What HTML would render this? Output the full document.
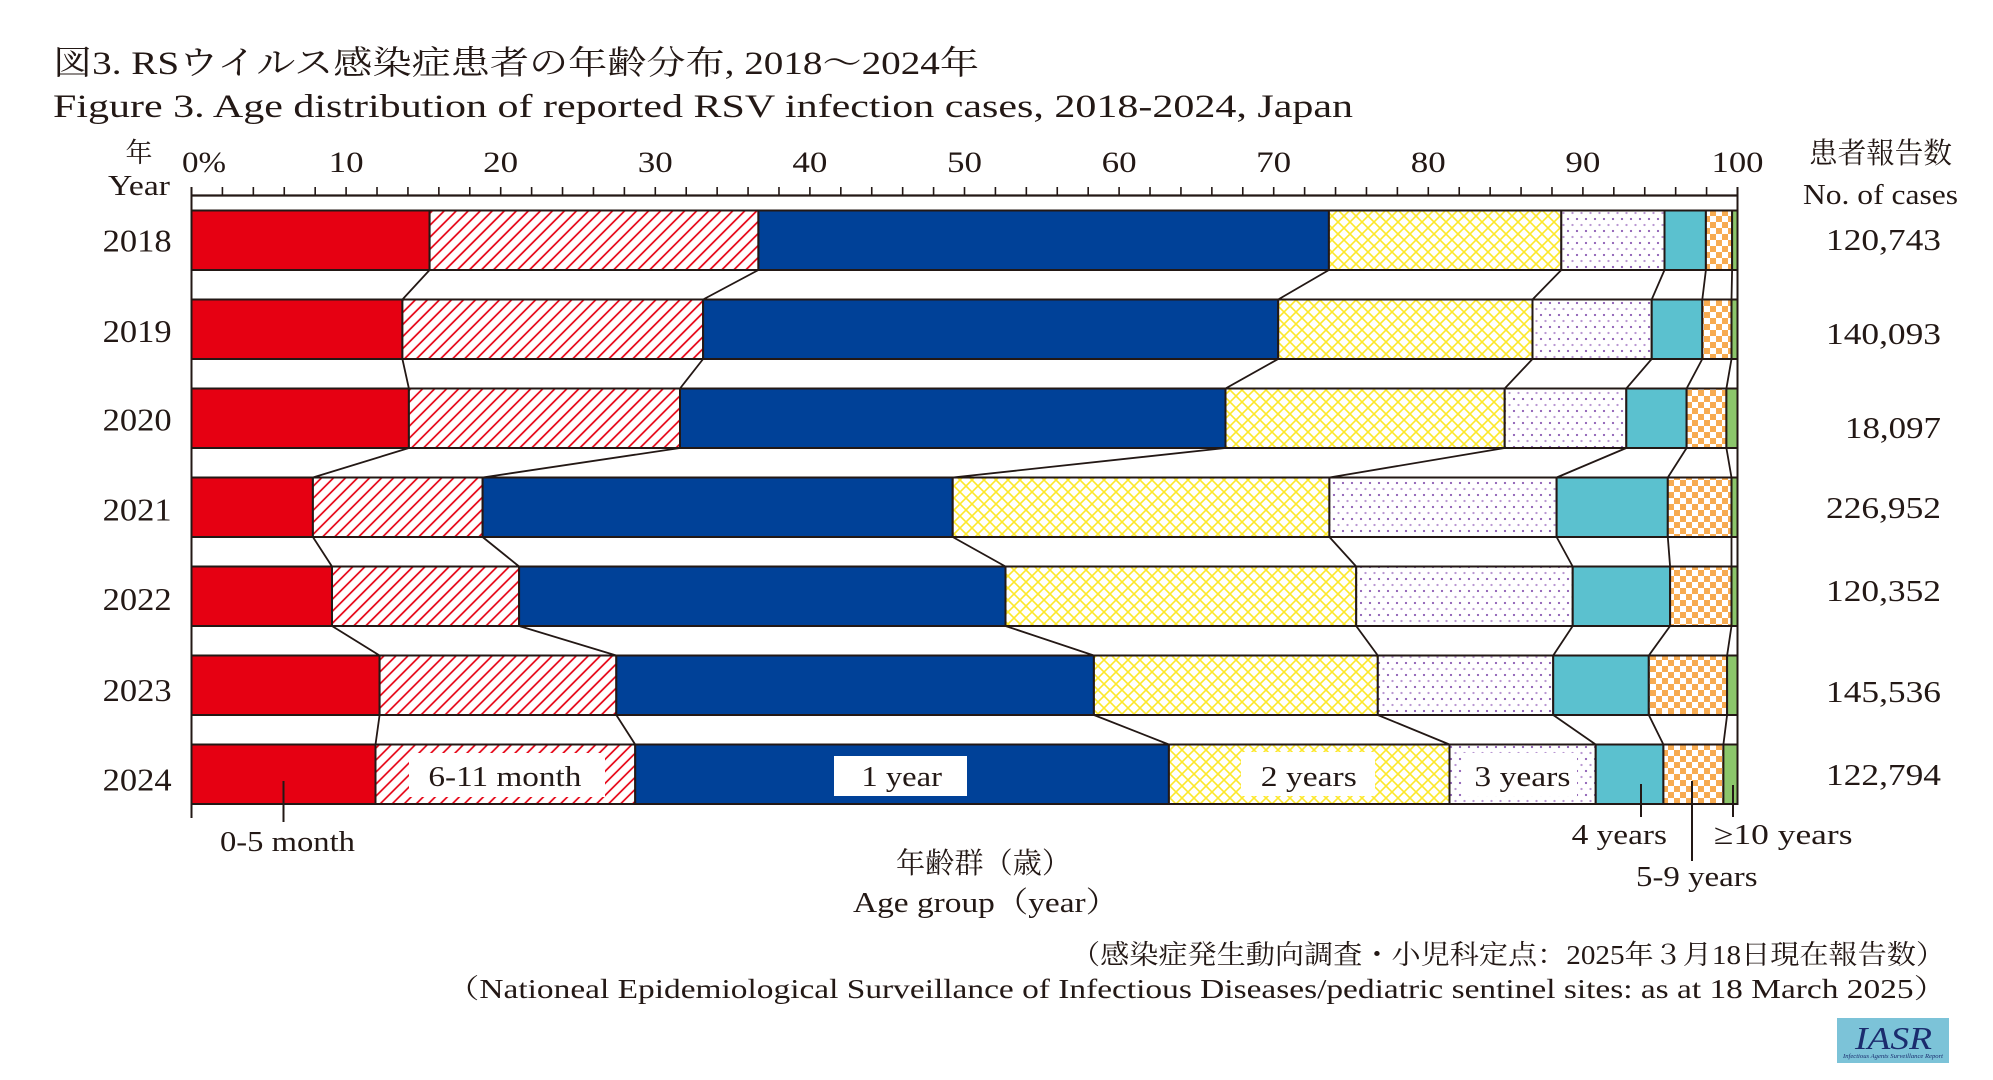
<!DOCTYPE html>
<html><head><meta charset="utf-8"><style>
html,body{margin:0;padding:0;background:#fff;}
svg{display:block;}
text{font-family:"Liberation Serif","Noto Serif CJK SC",serif;fill:#231815;}
</style></head><body>
<svg width="1993" height="1080" viewBox="0 0 1993 1080" xmlns="http://www.w3.org/2000/svg">
<defs>
<pattern id="hr" patternUnits="userSpaceOnUse" width="8.5" height="8.5" patternTransform="rotate(45)">
<rect width="8.5" height="8.5" fill="#fff"/><line x1="4.25" y1="0" x2="4.25" y2="8.5" stroke="#e60012" stroke-width="1.7"/></pattern>
<pattern id="yx" patternUnits="userSpaceOnUse" width="12" height="12">
<rect width="12" height="12" fill="#fff"/><path d="M0,0L12,12M12,0L0,12M-1,11L1,13M11,-1L13,1M-1,1L1,-1M11,13L13,11" stroke="#fde82a" stroke-width="1.6"/></pattern>
<pattern id="dt" patternUnits="userSpaceOnUse" width="9" height="12">
<rect width="9" height="12" fill="#fff"/><circle cx="2" cy="3" r="1.15" fill="#9062b6"/><circle cx="6.5" cy="9" r="1.15" fill="#b997d2"/></pattern>
<pattern id="oc" patternUnits="userSpaceOnUse" width="12" height="12">
<rect width="12" height="12" fill="#fff"/><rect x="0" y="0" width="6" height="6" fill="#f7ab50"/><rect x="6" y="6" width="6" height="6" fill="#f7ab50"/></pattern>
</defs>

<!-- Titles -->
<text x="53" y="74" font-size="33" textLength="926" lengthAdjust="spacingAndGlyphs">図3. RSウイルス感染症患者の年齢分布, 2018～2024年</text>
<text x="53" y="117" font-size="33" textLength="1300" lengthAdjust="spacingAndGlyphs">Figure 3. Age distribution of reported RSV infection cases, 2018-2024, Japan</text>

<!-- left header -->
<text x="139" y="162" font-size="27" text-anchor="middle">年</text>
<text x="108" y="195" font-size="28" textLength="62" lengthAdjust="spacingAndGlyphs">Year</text>

<!-- right header -->
<text x="1809" y="163" font-size="29" textLength="143" lengthAdjust="spacingAndGlyphs">患者報告数</text>
<text x="1803" y="204" font-size="28" textLength="155" lengthAdjust="spacingAndGlyphs">No. of cases</text>

<!-- tick labels -->
<g font-size="30">
<text x="182" y="172" textLength="44" lengthAdjust="spacingAndGlyphs">0%</text>
<text x="328.6" y="172" textLength="35" lengthAdjust="spacingAndGlyphs">10</text>
<text x="483.2" y="172" textLength="35" lengthAdjust="spacingAndGlyphs">20</text>
<text x="637.8" y="172" textLength="35" lengthAdjust="spacingAndGlyphs">30</text>
<text x="792.4" y="172" textLength="35" lengthAdjust="spacingAndGlyphs">40</text>
<text x="947" y="172" textLength="35" lengthAdjust="spacingAndGlyphs">50</text>
<text x="1101.6" y="172" textLength="35" lengthAdjust="spacingAndGlyphs">60</text>
<text x="1256.2" y="172" textLength="35" lengthAdjust="spacingAndGlyphs">70</text>
<text x="1410.8" y="172" textLength="35" lengthAdjust="spacingAndGlyphs">80</text>
<text x="1565.4" y="172" textLength="35" lengthAdjust="spacingAndGlyphs">90</text>
<text x="1711.5" y="172" textLength="52" lengthAdjust="spacingAndGlyphs">100</text>
</g>

<!-- axis -->
<g stroke="#231815" stroke-width="1.6" fill="none">
<path d="M191.5,187V195M222.42,187V195M253.34,187V195M284.26,187V195M315.18,187V195M346.1,187V195M377.02,187V195M407.94,187V195M438.86,187V195M469.78,187V195M500.7,187V195M531.62,187V195M562.54,187V195M593.46,187V195M624.38,187V195M655.3,187V195M686.22,187V195M717.14,187V195M748.06,187V195M778.98,187V195M809.9,187V195M840.82,187V195M871.74,187V195M902.66,187V195M933.58,187V195M964.5,187V195M995.42,187V195M1026.34,187V195M1057.26,187V195M1088.18,187V195M1119.1,187V195M1150.02,187V195M1180.94,187V195M1211.86,187V195M1242.78,187V195M1273.7,187V195M1304.62,187V195M1335.54,187V195M1366.46,187V195M1397.38,187V195M1428.3,187V195M1459.22,187V195M1490.14,187V195M1521.06,187V195M1551.98,187V195M1582.9,187V195M1613.82,187V195M1644.74,187V195M1675.66,187V195M1706.58,187V195M1737.5,187V195"/>
</g>
<line x1="190.5" y1="195.5" x2="1738.5" y2="195.5" stroke="#231815" stroke-width="2.2"/>
<line x1="191.5" y1="187" x2="191.5" y2="818" stroke="#231815" stroke-width="2"/>
<line x1="1737.5" y1="187" x2="1737.5" y2="804" stroke="#231815" stroke-width="2"/>

<!-- bars -->
<g stroke="#231815" stroke-width="2">
<!-- 2018 -->
<rect x="191.5" y="210.5" width="238.1" height="59.5" fill="#e60012"/>
<rect x="429.6" y="210.5" width="328.8" height="59.5" fill="url(#hr)"/>
<rect x="758.4" y="210.5" width="570.5" height="59.5" fill="#004198"/>
<rect x="1328.9" y="210.5" width="232.4" height="59.5" fill="url(#yx)"/>
<rect x="1561.3" y="210.5" width="103.2" height="59.5" fill="url(#dt)"/>
<rect x="1664.5" y="210.5" width="41.4" height="59.5" fill="#5bc1cf"/>
<rect x="1705.9" y="210.5" width="26.2" height="59.5" fill="url(#oc)"/>
<rect x="1732.1" y="210.5" width="5.4" height="59.5" fill="#8cc66b"/>
<!-- 2019 -->
<rect x="191.5" y="299.5" width="210.9" height="59.5" fill="#e60012"/>
<rect x="402.4" y="299.5" width="300.7" height="59.5" fill="url(#hr)"/>
<rect x="703.1" y="299.5" width="575.1" height="59.5" fill="#004198"/>
<rect x="1278.2" y="299.5" width="254.3" height="59.5" fill="url(#yx)"/>
<rect x="1532.5" y="299.5" width="119.2" height="59.5" fill="url(#dt)"/>
<rect x="1651.7" y="299.5" width="50.6" height="59.5" fill="#5bc1cf"/>
<rect x="1702.3" y="299.5" width="29.2" height="59.5" fill="url(#oc)"/>
<rect x="1731.5" y="299.5" width="6" height="59.5" fill="#8cc66b"/>
<!-- 2020 -->
<rect x="191.5" y="388.5" width="217.4" height="59.5" fill="#e60012"/>
<rect x="408.9" y="388.5" width="271.1" height="59.5" fill="url(#hr)"/>
<rect x="680" y="388.5" width="545.5" height="59.5" fill="#004198"/>
<rect x="1225.5" y="388.5" width="279.2" height="59.5" fill="url(#yx)"/>
<rect x="1504.7" y="388.5" width="121.6" height="59.5" fill="url(#dt)"/>
<rect x="1626.3" y="388.5" width="60.3" height="59.5" fill="#5bc1cf"/>
<rect x="1686.6" y="388.5" width="39.8" height="59.5" fill="url(#oc)"/>
<rect x="1726.4" y="388.5" width="11.1" height="59.5" fill="#8cc66b"/>
<!-- 2021 -->
<rect x="191.5" y="477.5" width="121.4" height="59.5" fill="#e60012"/>
<rect x="312.9" y="477.5" width="169.7" height="59.5" fill="url(#hr)"/>
<rect x="482.6" y="477.5" width="470.1" height="59.5" fill="#004198"/>
<rect x="952.7" y="477.5" width="376.7" height="59.5" fill="url(#yx)"/>
<rect x="1329.4" y="477.5" width="227.2" height="59.5" fill="url(#dt)"/>
<rect x="1556.6" y="477.5" width="111.2" height="59.5" fill="#5bc1cf"/>
<rect x="1667.8" y="477.5" width="63.7" height="59.5" fill="url(#oc)"/>
<rect x="1731.5" y="477.5" width="6" height="59.5" fill="#8cc66b"/>
<!-- 2022 -->
<rect x="191.5" y="566.5" width="140.5" height="59.5" fill="#e60012"/>
<rect x="332" y="566.5" width="187.1" height="59.5" fill="url(#hr)"/>
<rect x="519.1" y="566.5" width="486.4" height="59.5" fill="#004198"/>
<rect x="1005.5" y="566.5" width="350.7" height="59.5" fill="url(#yx)"/>
<rect x="1356.2" y="566.5" width="216.5" height="59.5" fill="url(#dt)"/>
<rect x="1572.7" y="566.5" width="97.4" height="59.5" fill="#5bc1cf"/>
<rect x="1670.1" y="566.5" width="61.4" height="59.5" fill="url(#oc)"/>
<rect x="1731.5" y="566.5" width="6" height="59.5" fill="#8cc66b"/>
<!-- 2023 -->
<rect x="191.5" y="655.5" width="188.1" height="59.5" fill="#e60012"/>
<rect x="379.6" y="655.5" width="236.7" height="59.5" fill="url(#hr)"/>
<rect x="616.3" y="655.5" width="477.6" height="59.5" fill="#004198"/>
<rect x="1093.9" y="655.5" width="283.9" height="59.5" fill="url(#yx)"/>
<rect x="1377.8" y="655.5" width="175.4" height="59.5" fill="url(#dt)"/>
<rect x="1553.2" y="655.5" width="95.6" height="59.5" fill="#5bc1cf"/>
<rect x="1648.8" y="655.5" width="78.3" height="59.5" fill="url(#oc)"/>
<rect x="1727.1" y="655.5" width="10.4" height="59.5" fill="#8cc66b"/>
<!-- 2024 -->
<rect x="191.5" y="744.5" width="184" height="59.5" fill="#e60012"/>
<rect x="375.5" y="744.5" width="259.7" height="59.5" fill="url(#hr)"/>
<rect x="635.2" y="744.5" width="533.7" height="59.5" fill="#004198"/>
<rect x="1168.9" y="744.5" width="280.6" height="59.5" fill="url(#yx)"/>
<rect x="1449.5" y="744.5" width="146.2" height="59.5" fill="url(#dt)"/>
<rect x="1595.7" y="744.5" width="67.7" height="59.5" fill="#5bc1cf"/>
<rect x="1663.4" y="744.5" width="60" height="59.5" fill="url(#oc)"/>
<rect x="1723.4" y="744.5" width="14.1" height="59.5" fill="#8cc66b"/>
</g>

<!-- connectors -->
<g stroke="#231815" stroke-width="1.8" fill="none">
<path d="M429.6,270L402.4,299.5M758.4,270L703.1,299.5M1328.9,270L1278.2,299.5M1561.3,270L1532.5,299.5M1664.5,270L1651.7,299.5M1705.9,270L1702.3,299.5M1732.1,270L1731.5,299.5"/>
<path d="M402.4,359L408.9,388.5M703.1,359L680,388.5M1278.2,359L1225.5,388.5M1532.5,359L1504.7,388.5M1651.7,359L1626.3,388.5M1702.3,359L1686.6,388.5M1731.5,359L1726.4,388.5"/>
<path d="M408.9,448L312.9,477.5M680,448L482.6,477.5M1225.5,448L952.7,477.5M1504.7,448L1329.4,477.5M1626.3,448L1556.6,477.5M1686.6,448L1667.8,477.5M1726.4,448L1731.5,477.5"/>
<path d="M312.9,537L332,566.5M482.6,537L519.1,566.5M952.7,537L1005.5,566.5M1329.4,537L1356.2,566.5M1556.6,537L1572.7,566.5M1667.8,537L1670.1,566.5M1731.5,537L1731.5,566.5"/>
<path d="M332,626L379.6,655.5M519.1,626L616.3,655.5M1005.5,626L1093.9,655.5M1356.2,626L1377.8,655.5M1572.7,626L1553.2,655.5M1670.1,626L1648.8,655.5M1731.5,626L1727.1,655.5"/>
<path d="M379.6,715L375.5,744.5M616.3,715L635.2,744.5M1093.9,715L1168.9,744.5M1377.8,715L1449.5,744.5M1553.2,715L1595.7,744.5M1648.8,715L1663.4,744.5M1727.1,715L1723.4,744.5"/>
</g>

<!-- label boxes in 2024 -->
<rect x="409" y="753" width="196" height="44" fill="#fff"/>
<rect x="834" y="756" width="133" height="40" fill="#fff"/>
<rect x="1241" y="752" width="134" height="44" fill="#fff"/>
<rect x="1463" y="753" width="114" height="43" fill="#fff"/>
<g font-size="29">
<text x="428.4" y="786" textLength="153" lengthAdjust="spacingAndGlyphs">6-11 month</text>
<text x="861.4" y="786" textLength="80.6" lengthAdjust="spacingAndGlyphs">1 year</text>
<text x="1260.8" y="786" textLength="96" lengthAdjust="spacingAndGlyphs">2 years</text>
<text x="1474.4" y="786" textLength="96" lengthAdjust="spacingAndGlyphs">3 years</text>
</g>

<!-- leader lines -->
<g stroke="#231815" stroke-width="2">
<line x1="283.5" y1="781" x2="283.5" y2="822"/>
<line x1="1641" y1="784" x2="1641" y2="817"/>
<line x1="1692" y1="781" x2="1692" y2="861"/>
<line x1="1733" y1="785" x2="1733" y2="817"/>
</g>
<g font-size="29">
<text x="220" y="851" textLength="135" lengthAdjust="spacingAndGlyphs">0-5 month</text>
<text x="1571.6" y="844" textLength="95.4" lengthAdjust="spacingAndGlyphs">4 years</text>
<text x="1636" y="886" textLength="121.5" lengthAdjust="spacingAndGlyphs">5-9 years</text>
<text x="1714" y="844" textLength="138.5" lengthAdjust="spacingAndGlyphs">≥10 years</text>
</g>

<!-- year labels -->
<g font-size="32">
<text x="102.7" y="251.7" textLength="69" lengthAdjust="spacingAndGlyphs">2018</text>
<text x="102.7" y="342" textLength="69" lengthAdjust="spacingAndGlyphs">2019</text>
<text x="102.7" y="430.5" textLength="69" lengthAdjust="spacingAndGlyphs">2020</text>
<text x="102.7" y="520.5" textLength="69" lengthAdjust="spacingAndGlyphs">2021</text>
<text x="102.7" y="610" textLength="69" lengthAdjust="spacingAndGlyphs">2022</text>
<text x="102.7" y="701" textLength="69" lengthAdjust="spacingAndGlyphs">2023</text>
<text x="102.7" y="790.5" textLength="69" lengthAdjust="spacingAndGlyphs">2024</text>
</g>

<!-- counts -->
<g font-size="31">
<text x="1826" y="250" textLength="115" lengthAdjust="spacingAndGlyphs">120,743</text>
<text x="1826" y="344" textLength="115" lengthAdjust="spacingAndGlyphs">140,093</text>
<text x="1845" y="438" textLength="96" lengthAdjust="spacingAndGlyphs">18,097</text>
<text x="1826" y="518" textLength="115" lengthAdjust="spacingAndGlyphs">226,952</text>
<text x="1826" y="601" textLength="115" lengthAdjust="spacingAndGlyphs">120,352</text>
<text x="1826" y="702" textLength="115" lengthAdjust="spacingAndGlyphs">145,536</text>
<text x="1826" y="785" textLength="115" lengthAdjust="spacingAndGlyphs">122,794</text>
</g>

<!-- axis title -->
<text x="896" y="873" font-size="29" textLength="175" lengthAdjust="spacingAndGlyphs">年齢群（歳）</text>
<text x="853" y="912" font-size="29" textLength="266" lengthAdjust="spacingAndGlyphs">Age group（year）</text>

<!-- footnotes -->
<text x="1071" y="964" font-size="27" textLength="874" lengthAdjust="spacingAndGlyphs">（感染症発生動向調査・小児科定点：2025年３月18日現在報告数）</text>
<text x="446" y="998" font-size="27" textLength="1501" lengthAdjust="spacingAndGlyphs">（Nationeal Epidemiological Surveillance of Infectious Diseases/pediatric sentinel sites: as at 18 March 2025）</text>

<!-- IASR logo -->
<rect x="1837" y="1018" width="112" height="45" fill="#7cc3d8"/>
<text x="1855" y="1049" font-size="32" font-style="italic" textLength="77" lengthAdjust="spacingAndGlyphs" style="fill:#1b2c6e">IASR</text>
<text x="1843" y="1058" font-size="6" font-style="italic" textLength="100" lengthAdjust="spacingAndGlyphs" style="fill:#1b2c6e">Infectious Agents Surveillance Report</text>
</svg>
</body></html>
